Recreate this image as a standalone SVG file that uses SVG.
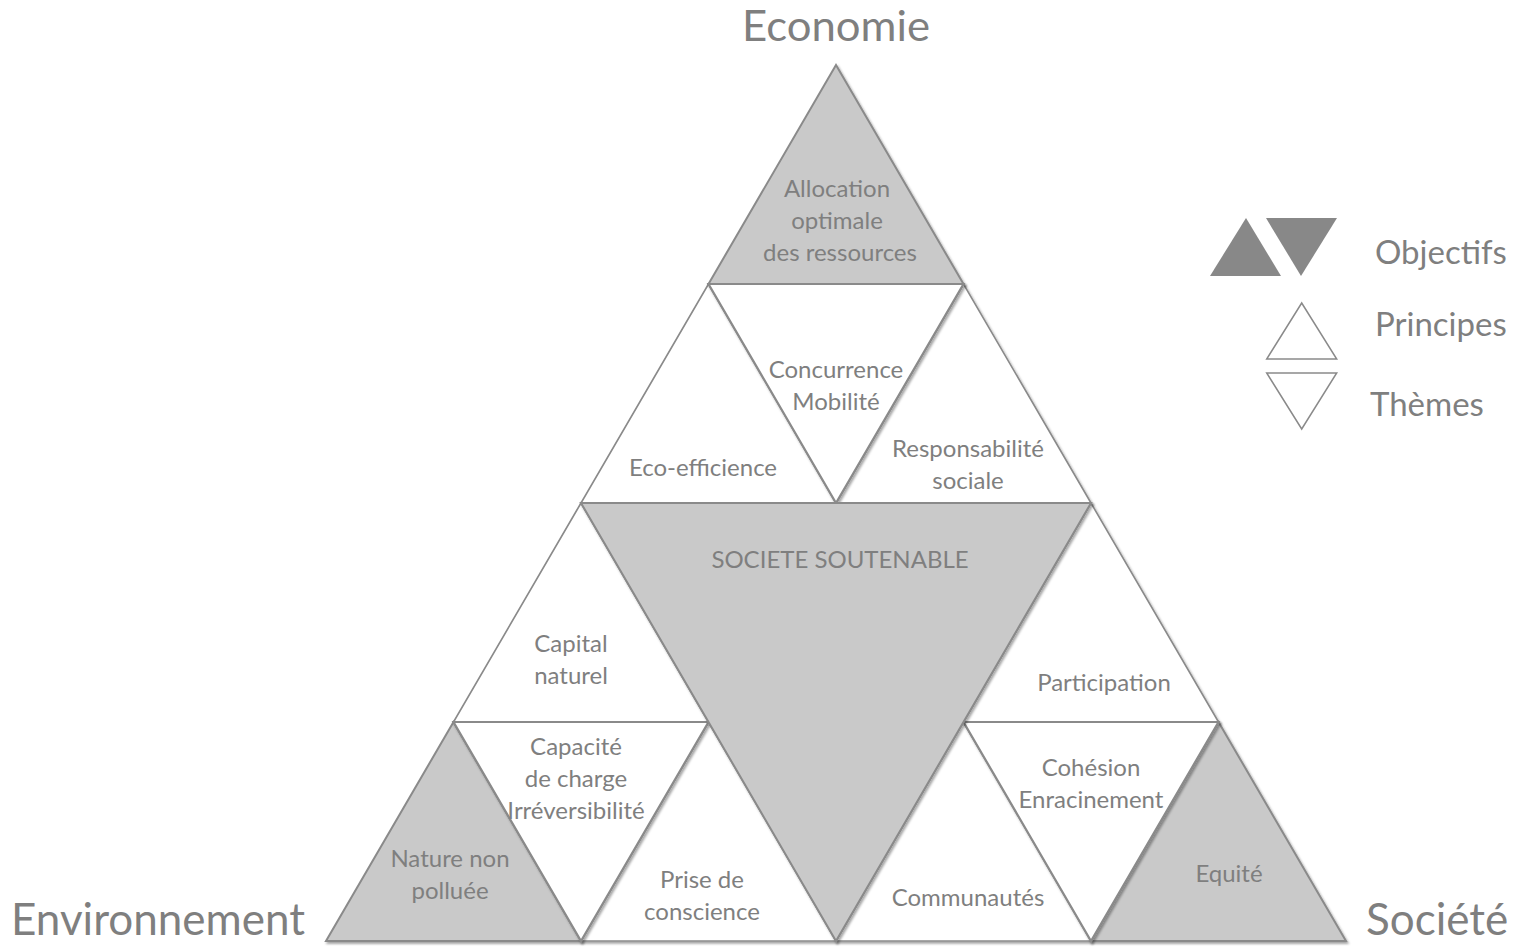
<svg xmlns="http://www.w3.org/2000/svg" width="1518" height="948" viewBox="0 0 1518 948">
<defs>
<filter id="sh" x="-10%" y="-10%" width="120%" height="120%">
<feDropShadow dx="1.5" dy="2" stdDeviation="1.2" flood-color="#000" flood-opacity="0.35"/>
</filter>
</defs>
<style>
.obj{fill:#c9c9c9;stroke:#8a8a8a;stroke-width:2;stroke-linejoin:miter;filter:url(#sh)}
.pr{fill:#fff;stroke:#8a8a8a;stroke-width:1.6;filter:url(#sh)}
.th{fill:#fff;stroke:#8a8a8a;stroke-width:2.2;filter:url(#sh)}
.lbl{font-family:Lato,"Open Sans",sans-serif;font-size:24px;fill:#7f7f7f;text-anchor:middle}
.big{font-family:Lato,"Open Sans",sans-serif;font-size:44px;fill:#7f7f7f}
.leg{font-family:Lato,"Open Sans",sans-serif;font-size:33px;fill:#7f7f7f}
</style>
<rect width="1518" height="948" fill="#fff"/>
<g id="titles">
<text class="big" x="836" y="41" text-anchor="middle" style="font-size:42px" textLength="188" lengthAdjust="spacingAndGlyphs">Economie</text>
<text class="big" x="11" y="935">Environnement</text>
<text class="big" x="1366" y="935">Société</text>
</g>
<g id="n-allocation">
<polygon class="obj" points="836,65 708.5,284 963.5,284"/>
<text class="lbl" x="837" y="197">Allocation</text>
<text class="lbl" x="837" y="229">optimale</text>
<text class="lbl" x="840" y="261">des ressources</text>
</g>
<g id="n-eco">
<polygon class="pr" points="708.5,284 581,503 836,503"/>
<text class="lbl" x="703" y="476">Eco-efficience</text>
</g>
<g id="n-responsabilite">
<polygon class="pr" points="963.5,284 836,503 1091,503"/>
<text class="lbl" x="968" y="457">Responsabilité</text>
<text class="lbl" x="968" y="489">sociale</text>
</g>
<g id="n-concurrence">
<polygon class="th" points="708.5,284 963.5,284 836,503"/>
<text class="lbl" x="836" y="378">Concurrence</text>
<text class="lbl" x="836" y="410">Mobilité</text>
</g>
<g id="n-capital">
<polygon class="pr" points="581,503 453.5,722 708.5,722"/>
<text class="lbl" x="571" y="652">Capital</text>
<text class="lbl" x="571" y="684">naturel</text>
</g>
<g id="n-participation">
<polygon class="pr" points="1091,503 963.5,722 1218.5,722"/>
<text class="lbl" x="1104" y="691">Participation</text>
</g>
<g id="n-nature">
<polygon class="obj" points="453.5,722 326,941 581,941"/>
<text class="lbl" x="450" y="867">Nature non</text>
<text class="lbl" x="450" y="899">polluée</text>
</g>
<g id="n-prise">
<polygon class="pr" points="708.5,722 581,941 836,941"/>
<text class="lbl" x="702" y="888">Prise de</text>
<text class="lbl" x="702" y="920">conscience</text>
</g>
<g id="n-capacite">
<polygon class="th" points="453.5,722 708.5,722 581,941"/>
<text class="lbl" x="576" y="755">Capacité</text>
<text class="lbl" x="576" y="787">de charge</text>
<text class="lbl" x="576" y="819">Irréversibilité</text>
</g>
<g id="n-communautes">
<polygon class="pr" points="963.5,722 836,941 1091,941"/>
<text class="lbl" x="968" y="906">Communautés</text>
</g>
<g id="n-equite">
<polygon class="obj" points="1218.5,722 1091,941 1346,941"/>
<text class="lbl" x="1229" y="882">Equité</text>
</g>
<g id="n-cohesion">
<polygon class="th" points="963.5,722 1218.5,722 1091,941"/>
<text class="lbl" x="1091" y="776">Cohésion</text>
<text class="lbl" x="1091" y="808">Enracinement</text>
</g>
<g id="n-societe">
<polygon class="obj" points="581,503 1091,503 836,941"/>
<text class="lbl" x="840" y="568">SOCIETE SOUTENABLE</text>
</g>
<g id="legend">
<polygon points="1246,218 1210,276 1281,276" fill="#888"/>
<polygon points="1266,218 1337,218 1301,276" fill="#888"/>
<polygon points="1301.7,303 1266.7,359 1336.7,359" fill="#fff" stroke="#8a8a8a" stroke-width="1.5"/>
<polygon points="1266.7,373 1336.7,373 1301.7,429" fill="#fff" stroke="#8a8a8a" stroke-width="1.5"/>
<text class="leg" x="1375" y="264">Objectifs</text>
<text class="leg" x="1375" y="336">Principes</text>
<text class="leg" x="1370" y="416">Thèmes</text>
</g>
<g id="connectors"/>
</svg>
